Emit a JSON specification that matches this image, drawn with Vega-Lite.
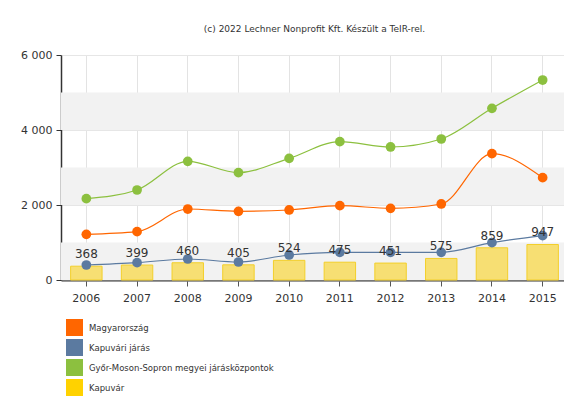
{
  "$schema": "https://vega.github.io/schema/vega-lite/v6.json",
  "autosize": "none",
  "width": 507,
  "height": 225,
  "padding": {"left": 61, "top": 55, "right": 0, "bottom": 116},
  "background": "white",
  "title": {
    "text": "(c) 2022 Lechner Nonprofit Kft. Készült a TeIR-rel.",
    "font": "DejaVu Sans",
    "fontSize": 9,
    "fontWeight": "normal",
    "color": "#333333",
    "anchor": "middle",
    "offset": 15
  },
  "datasets": {
    "bands": [
      {"value": 0, "value2": 1000},
      {"value": 2000, "value2": 3000},
      {"value": 4000, "value2": 5000}
    ],
    "main": [
      {"year": "2006", "series": "Magyarország", "value": 1218},
      {"year": "2007", "series": "Magyarország", "value": 1289},
      {"year": "2008", "series": "Magyarország", "value": 1893},
      {"year": "2009", "series": "Magyarország", "value": 1831},
      {"year": "2010", "series": "Magyarország", "value": 1867},
      {"year": "2011", "series": "Magyarország", "value": 1982},
      {"year": "2012", "series": "Magyarország", "value": 1911},
      {"year": "2013", "series": "Magyarország", "value": 2027},
      {"year": "2014", "series": "Magyarország", "value": 3369},
      {"year": "2015", "series": "Magyarország", "value": 2729},
      {"year": "2006", "series": "Kapuvári járás", "value": 400},
      {"year": "2007", "series": "Kapuvári járás", "value": 462},
      {"year": "2008", "series": "Kapuvári járás", "value": 560},
      {"year": "2009", "series": "Kapuvári járás", "value": 480},
      {"year": "2010", "series": "Kapuvári járás", "value": 667},
      {"year": "2011", "series": "Kapuvári járás", "value": 738},
      {"year": "2012", "series": "Kapuvári járás", "value": 738},
      {"year": "2013", "series": "Kapuvári járás", "value": 738},
      {"year": "2014", "series": "Kapuvári járás", "value": 996},
      {"year": "2015", "series": "Kapuvári járás", "value": 1182},
      {"year": "2006", "series": "Győr-Moson-Sopron megyei járásközpontok", "value": 2169},
      {"year": "2007", "series": "Győr-Moson-Sopron megyei járásközpontok", "value": 2400},
      {"year": "2008", "series": "Győr-Moson-Sopron megyei járásközpontok", "value": 3164},
      {"year": "2009", "series": "Győr-Moson-Sopron megyei járásközpontok", "value": 2862},
      {"year": "2010", "series": "Győr-Moson-Sopron megyei járásközpontok", "value": 3244},
      {"year": "2011", "series": "Győr-Moson-Sopron megyei járásközpontok", "value": 3689},
      {"year": "2012", "series": "Győr-Moson-Sopron megyei járásközpontok", "value": 3547},
      {"year": "2013", "series": "Győr-Moson-Sopron megyei járásközpontok", "value": 3760},
      {"year": "2014", "series": "Győr-Moson-Sopron megyei járásközpontok", "value": 4578},
      {"year": "2015", "series": "Győr-Moson-Sopron megyei járásközpontok", "value": 5333},
      {"year": "2006", "series": "Kapuvár", "value": 368},
      {"year": "2007", "series": "Kapuvár", "value": 399},
      {"year": "2008", "series": "Kapuvár", "value": 460},
      {"year": "2009", "series": "Kapuvár", "value": 405},
      {"year": "2010", "series": "Kapuvár", "value": 524},
      {"year": "2011", "series": "Kapuvár", "value": 475},
      {"year": "2012", "series": "Kapuvár", "value": 451},
      {"year": "2013", "series": "Kapuvár", "value": 575},
      {"year": "2014", "series": "Kapuvár", "value": 859},
      {"year": "2015", "series": "Kapuvár", "value": 947}
    ]
  },
  "config": {
    "view": {"stroke": null},
    "font": "DejaVu Sans",
    "locale": {"number": {"decimal": ",", "thousands": " ", "grouping": [3], "currency": ["", ""]}},
    "axis": {"labelFont": "DejaVu Sans", "labelColor": "#333333", "labelFontSize": 11, "labelOverlap": false, "labelFlush": false},
    "axisBand": {"grid": true, "gridColor": "#e3e3e3", "bandPosition": 0.5}
  },
  "encoding": {
    "y": {
      "field": "value", "type": "quantitative",
      "scale": {"domain": [0, 6000], "nice": false},
      "axis": {
        "title": null, "tickCount": 6, "values": [0, 1000, 2000, 3000, 4000, 5000, 6000],
        "format": ",d",
        "labelOverlap": false, "labelFlush": false, "labelBound": false, "labelSeparation": 0,
        "labelFontSize": 11, "labelBaseline": "middle",
        "domain": true, "domainColor": "#333333", "domainWidth": 1.5,
        "tickColor": "#333333", "tickSize": 5, "labelPadding": 4,
        "grid": true, "gridColor": "#e6e6e6"
      }
    }
  },
  "layer": [
    {
      "data": {"name": "bands"},
      "mark": {"type": "rect", "color": "#f2f2f2"},
      "encoding": {
        "y2": {"field": "value2"}
      }
    },
    {
      "data": {"name": "main"},
      "transform": [{"filter": "datum.series === 'Kapuvár'"}],
      "mark": {"type": "bar", "fill": "#F7DF73", "stroke": "#F3CF2A", "strokeWidth": 1},
      "encoding": {
        "x": {
          "field": "year", "type": "ordinal",
          "scale": {"type": "band", "paddingInner": 0.38, "paddingOuter": 0.19},
          "axis": {
            "title": null, "labelAngle": 0, "labelPadding": 6,
            "domainColor": "#777777", "domainWidth": 2.5,
            "tickColor": "#555555", "tickSize": 6, "tickBand": "center",
            "grid": true, "gridColor": "#e3e3e3", "gridWidth": 1
          }
        }
      }
    },
    {
      "data": {"name": "main"},
      "transform": [{"filter": "datum.series !== 'Kapuvár'"}],
      "mark": {"type": "line", "interpolate": "monotone", "strokeWidth": 1.2},
      "encoding": {
        "x": {"field": "year", "type": "ordinal"},
        "color": {
          "field": "series", "type": "nominal",
          "scale": {
            "domain": ["Magyarország", "Kapuvári járás", "Győr-Moson-Sopron megyei járásközpontok", "Kapuvár"],
            "range": ["#FF6600", "#5B7AA0", "#8CC03F", "#FFD200"]
          },
          "legend": {
            "title": null, "orient": "none", "legendX": 5, "legendY": 264,
            "symbolType": "square", "symbolSize": 289, "symbolOpacity": 1,
            "symbolStrokeWidth": 0, "symbolFillColor": null,
            "labelFont": "DejaVu Sans", "labelFontSize": 8.5, "labelColor": "#333333",
            "labelOffset": 6, "rowPadding": 3, "labelLimit": 400
          }
        }
      }
    },
    {
      "data": {"name": "main"},
      "transform": [{"filter": "datum.series !== 'Kapuvár'"}],
      "mark": {"type": "point", "filled": true, "size": 95, "opacity": 1},
      "encoding": {
        "x": {"field": "year", "type": "ordinal"},
        "color": {"field": "series", "type": "nominal"}
      }
    },
    {
      "data": {"name": "main"},
      "transform": [{"filter": "datum.series === 'Kapuvár'"}],
      "mark": {"type": "text", "dy": -12, "fontSize": 12, "font": "DejaVu Sans", "color": "#333333"},
      "encoding": {
        "x": {"field": "year", "type": "ordinal"},
        "text": {"field": "value", "type": "quantitative", "format": "d"}
      }
    }
  ]
}
